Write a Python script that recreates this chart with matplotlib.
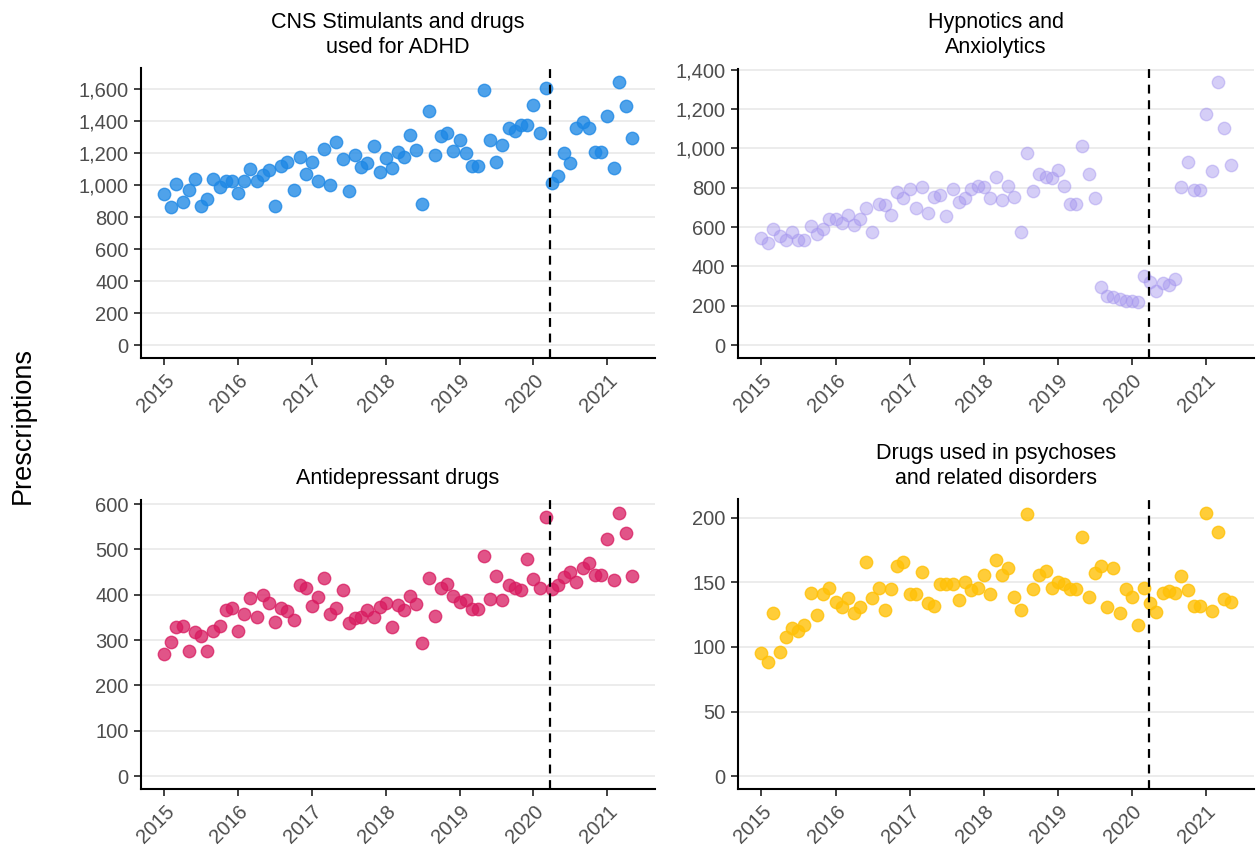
import matplotlib
matplotlib.use("Agg")
import matplotlib.pyplot as plt
import matplotlib.dates as mdates
import matplotlib.ticker as mticker
import numpy as np
import pandas as pd

plt.rcParams['font.family'] = ['Liberation Sans', 'DejaVu Sans']

# monthly dates, Jan 2015 - May 2021
months = pd.date_range('2015-01-01', periods=77, freq='MS')
lockdown = pd.Timestamp('2020-03-23')

# CNS stimulants and drugs used for ADHD
adhd = [945, 864, 1006, 895, 969, 1038, 868, 910, 1038, 985, 1027, 1027,
        952, 1027, 1102, 1027, 1061, 1094, 868, 1121, 1144, 971, 1176, 1071,
        1144, 1023, 1228, 998, 1268, 1163, 960, 1190, 1115, 1140, 1243, 1083,
        1171, 1105, 1205, 1174, 1315, 1221, 883, 1464, 1186, 1309, 1326, 1213,
        1282, 1199, 1121, 1121, 1594, 1280, 1146, 1249, 1357, 1339, 1376, 1376,
        1502, 1326, 1604, 1014, 1058, 1199, 1136, 1355, 1395, 1357, 1205, 1205,
        1433, 1105, 1646, 1497, 1295]

# Hypnotics and anxiolytics
hypno = [546, 521, 589, 557, 533, 577, 533, 533, 604, 567, 591, 642,
         642, 623, 663, 613, 642, 696, 577, 716, 711, 660, 777, 747,
         793, 696, 803, 669, 755, 764, 657, 796, 727, 750, 793, 810,
         806, 750, 852, 737, 811, 752, 577, 974, 781, 871, 857, 850,
         891, 811, 718, 718, 1010, 872, 747, 297, 248, 243, 233, 224,
         224, 221, 350, 319, 277, 317, 304, 335, 806, 932, 788, 788,
         1176, 884, 1339, 1103, 915]

# Antidepressant drugs
antidep = [270, 295, 329, 332, 276, 317, 310, 275, 320, 332, 366, 371,
           321, 357, 393, 350, 400, 382, 341, 370, 364, 345, 422, 415,
           376, 395, 436, 357, 371, 410, 337, 348, 352, 366, 350, 374,
           382, 329, 377, 366, 397, 380, 293, 436, 354, 414, 424, 398,
           383, 388, 369, 369, 485, 391, 441, 388, 422, 414, 410, 478,
           435, 415, 571, 412, 421, 440, 450, 428, 458, 471, 443, 443,
           522, 433, 581, 536, 442]

# Drugs used in psychoses and related disorders
psych = [95, 88, 126, 96, 108, 115, 112, 117, 142, 125, 141, 146,
         135, 131, 138, 126, 131, 166, 138, 146, 129, 145, 163, 166,
         141, 141, 158, 134, 132, 149, 149, 149, 136, 150, 144, 146,
         156, 141, 167, 156, 161, 139, 129, 203, 145, 156, 159, 146,
         150, 149, 145, 145, 185, 139, 157, 163, 131, 161, 126, 145,
         139, 117, 146, 134, 127, 142, 143, 142, 155, 144, 132, 132,
         204, 128, 189, 137, 135]

panels = [
    ('CNS Stimulants and drugs\nused for ADHD', adhd, '#1E88E5', 0.78, 200),
    ('Hypnotics and\nAnxiolytics', hypno, '#A394EE', 0.45, 200),
    ('Antidepressant drugs', antidep, '#D81B60', 0.75, 100),
    ('Drugs used in psychoses\nand related disorders', psych, '#FFC107', 0.8, 50),
]

W, H = 1258, 850
fig = plt.figure(figsize=(W / 100, H / 100), dpi=100)

# axes boxes in pixels: left, right, top, bottom
boxes = [(141, 655, 68.5, 358.3), (738, 1254, 68.5, 358.3),
         (141, 655, 499.5, 789.3), (738, 1254, 499.5, 789.3)]

x0 = mdates.date2num(months[0])
x1 = mdates.date2num(months[-1])
pad = (x1 - x0) * 0.05

for (title, vals, col, alpha, step), (l, r, t, b) in zip(panels, boxes):
    ax = fig.add_axes([l / W, (H - b) / H, (r - l) / W, (b - t) / H])
    vmax = max(vals)
    ax.set_ylim(-0.05 * vmax, vmax * 1.05)
    ax.set_xlim(x0 - pad, x1 + pad)
    ax.yaxis.set_major_locator(mticker.MultipleLocator(step))
    ax.yaxis.set_major_formatter(mticker.FuncFormatter(lambda v, p: f'{int(v):,}'))
    ax.grid(axis='y', color='#EBEBEB', linewidth=1.3, zorder=0)
    ax.set_axisbelow(True)
    ax.scatter(months, vals, s=80, color=col, alpha=alpha, linewidths=1.0,
               edgecolors=col, zorder=3)
    ax.axvline(lockdown, color='black', linestyle=(0, (4, 3)), linewidth=1.6, zorder=4)

    ax.xaxis.set_major_locator(mdates.YearLocator())
    ax.xaxis.set_major_formatter(mdates.DateFormatter('%Y'))
    for lab in ax.get_xticklabels():
        lab.set_rotation(45)
        lab.set_ha('right')
        lab.set_va('top')
        lab.set_rotation_mode('anchor')

    for side in ['top', 'right']:
        ax.spines[side].set_visible(False)
    for side in ['left', 'bottom']:
        ax.spines[side].set_linewidth(1.5)
        ax.spines[side].set_color('black')
    ax.tick_params(axis='both', length=5, width=1.3, color='#333333',
                   labelsize=14.5, labelcolor='#4D4D4D', pad=4)
    ax.set_title(title, fontsize=15.5, pad=11, linespacing=1.25)

fig.text(0.018, 0.5, 'Prescriptions', rotation=90, va='center', ha='center',
         fontsize=19.5)

fig.savefig('out.png', dpi=100)
